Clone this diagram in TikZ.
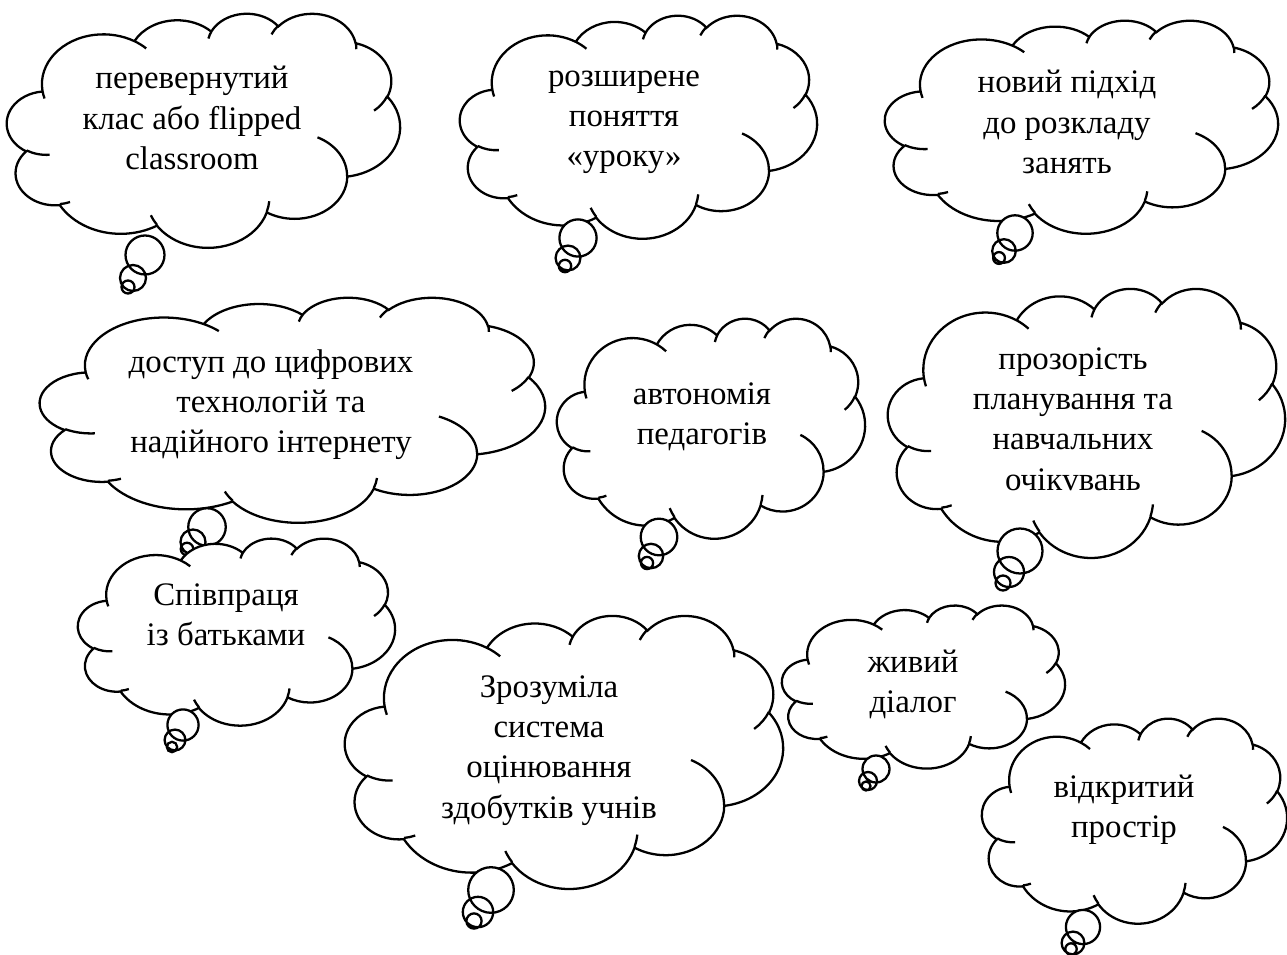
\documentclass[tikz,border=0pt]{standalone}
\usepackage{fontspec}
\setmainfont{Liberation Serif}
\usetikzlibrary{positioning}

\newcommand\carc[4]{arc[x radius=#1, y radius=#2,
  start angle={atan2(#1*sin(#3),#2*cos(#3))},
  delta angle={mod(atan2(#1*sin(#3+#4),#2*cos(#3+#4))-atan2(#1*sin(#3),#2*cos(#3))+720,360)}]}
\newcommand\cloudpath{(3.9,14.37)
  \carc{6.753}{9.19}{-190.4875}{123.7805}
  \carc{5.333}{7.267}{-144.1024}{89.9452}
  \carc{4.365}{5.945}{-145.8079}{99.723}
  \carc{4.857}{6.595}{-130.9861}{117.2417}
  \carc{5.333}{7.273}{-78.7089}{109.0269}
  \carc{6.775}{9.22}{-46.2673}{130.269}
  \carc{5.785}{7.867}{0.625}{114.0333}
  \carc{6.752}{9.215}{22.4516}{115.1726}
  \carc{7.72}{10.543}{66.2426}{75.711}
  \carc{4.36}{5.918}{-274.9421}{146.7356}
  \carc{4.345}{5.945}{-246.8285}{152.5189} -- cycle}
\newcommand\cloudhooks{
  (4.693,26.177) \carc{4.345}{5.945}{86.742}{26.4295}
  (6.928,34.899) \carc{4.36}{5.918}{73.6105}{11.4475}
  (16.478,39.09) \carc{6.752}{9.215}{137.6242}{14.0811}
  (28.827,34.751) \carc{6.752}{9.215}{6.4533}{15.9984}
  (34.129,22.954) \carc{5.785}{7.867}{-70.2924}{70.9174}
  (41.798,15.354) \carc{5.333}{7.273}{30.318}{27.7515}
  (38.324,5.426) \carc{4.857}{6.595}{-13.7443}{14.8589}
  (29.078,3.952) \carc{4.857}{6.595}{-149.1815}{18.1954}
  (22.141,4.72) \carc{4.365}{5.945}{-163.4943}{17.6864}
  (14,5.192) \carc{6.753}{9.19}{-66.707}{12.3194}
  (4.127,15.789) \carc{6.753}{9.19}{157.6544}{11.8582}}

\begin{document}
\begin{tikzpicture}[
    x=0.02cm, y=-0.02cm,
    line width=1.3pt,
    txt/.style={align=center, inner sep=0pt, font=\fontsize{18.7}{22.9}\selectfont,
        execute at begin node=\strut, execute at end node=\strut},
    pics/cloud/.style 2 args={code={
        \begin{scope}[xscale=#1/43.2, yscale=#2/43.2]
        \fill[white] \cloudpath;
        \draw \cloudpath \cloudhooks;
        \end{scope}}},
    pics/tail/.style n args={4}{code={
        \fill[white] #1 circle (3*#4) #2 circle (2*#4) #3 circle (#4);
        \draw #1 circle (3*#4) #2 circle (2*#4) #3 circle (#4);}}
]
\useasboundingbox (0,0) rectangle (1287,955);

\pic at (7,13) {cloud={393}{234}};
\pic {tail={(145,255)}{(133,278)}{(128,287)}{6.5}};
\node[txt] (flipped) at (192,124) {перевернутий\\клас або flipped\\classroom};

\pic at (460,15) {cloud={357}{223}};
\pic {tail={(578,238)}{(568,258)}{(565,266)}{6.2}};
\node[txt] (lesson) at (624,125) {розширене\\поняття\\«уроку»};

\pic at (885,20) {cloud={393}{213}};
\pic {tail={(1015,233)}{(1004,251)}{(999,258)}{5.9}};
\node[txt] (schedule) at (1067,128) {новий підхід\\до розкладу\\занять};

\pic at (40,297) {cloud={505}{225}};
\pic {tail={(207,527)}{(193,542)}{(187,549)}{6.25}};
\node[txt] (digital) at (271,407) {доступ до цифрових\\технологій та\\надійного інтернету};

\pic at (557,318) {cloud={308}{220}};
\pic {tail={(659,537)}{(651,556)}{(647,563)}{6.1}};
\node[txt] (autonomy) at (702,420) {автономія\\педагогів};

\pic at (888,288) {cloud={397}{269}};
\pic {tail={(1020,551)}{(1009,572)}{(1003,583)}{7.5}};
\node[txt] (planning) at (1073,425) {прозорість\\планування та\\навчальних\\очікvвань};

\pic at (78,538) {cloud={317}{187}};
\pic {tail={(183,725)}{(175,740)}{(172,747)}{5.2}};
\node[txt] (parents) at (226,621) {Співпраця\\із батьками};

\pic at (345,615) {cloud={438}{273}};
\pic {tail={(491,890)}{(478,912)}{(474,921)}{7.6}};
\node[txt] (grading) at (549,753) {Зрозуміла\\система\\оцінювання\\здобутків учнів};

\pic at (782,605) {cloud={283}{163}};
\pic {tail={(876,769)}{(868,781)}{(866,786)}{4.5}};
\node[txt] (dialogue) at (913,687) {живий\\діалог};

\pic at (982,718) {cloud={305}{205}};
\pic {tail={(1083,927)}{(1073,943)}{(1071,949)}{5.7}};
\node[txt] (space) at (1124,812) {відкритий\\простір};
\end{tikzpicture}
\end{document}
